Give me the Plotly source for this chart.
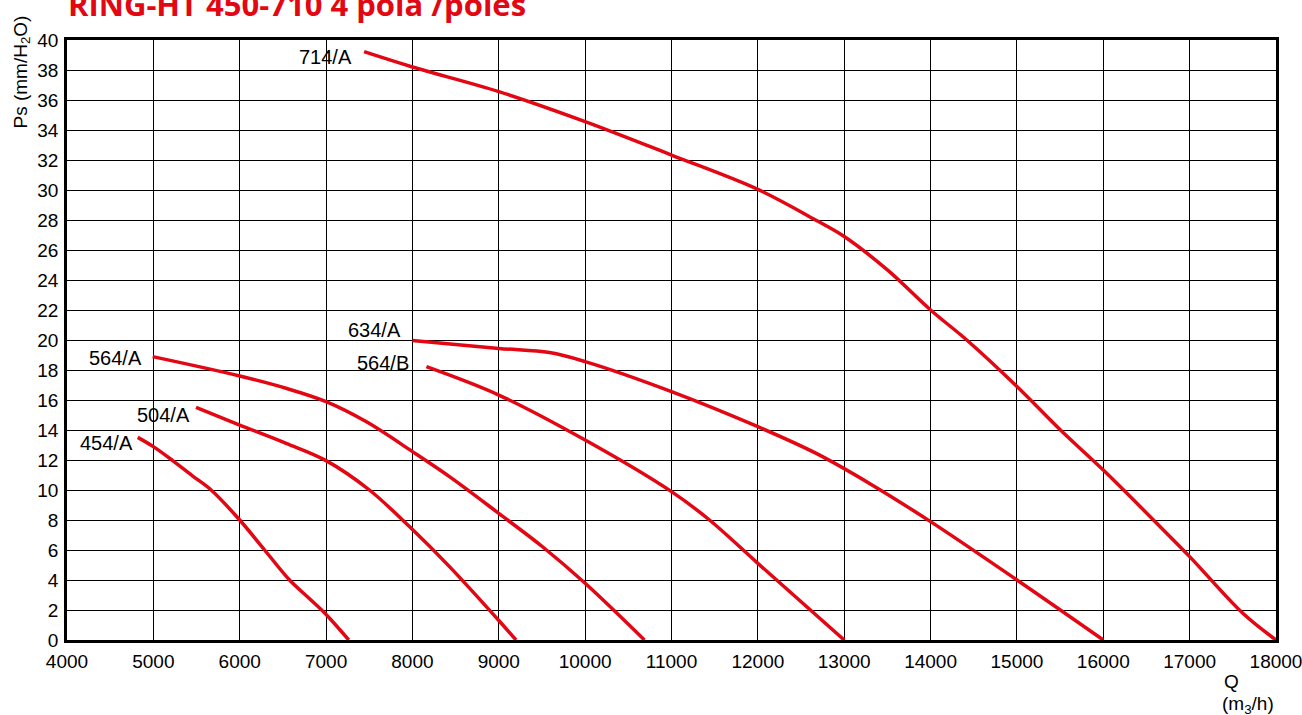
import plotly.graph_objects as go

# Data (Q in m3/h, Ps in mm H2O)
q_454a = [4819, 5000, 5224, 5456, 5669, 6000, 6288, 6577, 6790, 7000, 7263]
p_454a = [13.51, 12.89, 11.96, 10.93, 10.0, 8.0, 6.0, 4.0, 2.85, 1.7, 0.0]

q_504a = [5494, 6000, 6537, 7000, 7502, 7965, 8429, 9000, 9200]
p_504a = [15.51, 14.33, 13.11, 11.96, 10.0, 7.56, 4.89, 1.3, 0.0]

q_564a = [4992, 6000, 6537, 7000, 7463, 8000, 8429, 9000, 9510, 10000, 10687]
p_564a = [18.89, 17.6, 16.78, 15.89, 14.56, 12.56, 10.89, 8.44, 6.2, 3.78, 0.0]

q_564b = [8162, 9000, 10000, 11000, 11440, 12000, 13000]
p_564b = [18.22, 16.33, 13.33, 9.89, 8.0, 5.11, 0.0]

q_634a = [8000, 9000, 9587, 10000, 11000, 12000, 12676, 13293, 14000, 15000, 16000]
p_634a = [19.96, 19.44, 19.16, 18.56, 16.56, 14.22, 12.44, 10.44, 7.89, 4.0, 0.0]

q_714a = [7440, 8000, 9000, 10000, 11000, 12000, 12668, 13000, 13500, 14000, 14419, 15000, 15504, 16000, 16581, 17000, 17616, 18000]
p_714a = [39.22, 38.2, 36.56, 34.56, 32.33, 30.04, 28.0, 26.9, 24.67, 22.0, 20.0, 16.9, 14.0, 11.33, 8.0, 5.56, 1.78, 0.0]

series = [
    ("454/A", q_454a, p_454a),
    ("504/A", q_504a, p_504a),
    ("564/A", q_564a, p_564a),
    ("564/B", q_564b, p_564b),
    ("634/A", q_634a, p_634a),
    ("714/A", q_714a, p_714a),
]

label_names = ["714/A", "634/A", "564/B", "564/A", "504/A", "454/A"]
label_x = [7329, 7896, 7989, 4886, 5442, 4782]
label_y = [38.87, 20.67, 18.5, 18.8, 15.0, 13.13]

x_ticks = list(range(4000, 18001, 1000))
y_ticks = list(range(0, 41, 2))

RED = "#e30613"
FONT = "Liberation Sans, Arial, sans-serif"

fig = go.Figure()
for name, q, p in series:
    fig.add_trace(go.Scatter(x=q, y=p, mode="lines", name=name,
                             line=dict(color=RED, width=3.5, shape="spline", smoothing=1.0),
                             showlegend=False, hoverinfo="x+y+name"))

for n, lx, ly in zip(label_names, label_x, label_y):
    fig.add_annotation(x=lx, y=ly, xref="x", yref="y", text=n, showarrow=False,
                       xanchor="right", yanchor="middle",
                       font=dict(family=FONT, size=20, color="black"))

fig.add_annotation(x=0.0, y=1.0, xref="paper", yref="paper", xshift=-1, yshift=13,
                   text="<b>RING-HT 450-710 4 pola /poles</b>", showarrow=False,
                   xanchor="left", yanchor="bottom",
                   font=dict(family="Open Sans, sans-serif", size=31, color=RED))

fig.add_annotation(x=0, y=1, xref="paper", yref="paper", xshift=-46, yshift=26,
                   text="Ps (mm/H<sub>2</sub>O)", textangle=-90, showarrow=False,
                   xanchor="center", yanchor="top",
                   font=dict(family=FONT, size=19, color="black"))

fig.add_annotation(x=1, y=0, xref="paper", yref="paper", xshift=-45, yshift=-29,
                   text="Q", showarrow=False, xanchor="center", yanchor="top",
                   font=dict(family=FONT, size=19, color="black"))
fig.add_annotation(x=1, y=0, xref="paper", yref="paper", xshift=-28, yshift=-51,
                   text="(m<sub>3</sub>/h)", showarrow=False, xanchor="center", yanchor="top",
                   font=dict(family=FONT, size=19, color="black"))

fig.update_layout(
    width=1302, height=715,
    margin=dict(l=67, r=26, t=40, b=75, autoexpand=False),
    paper_bgcolor="white", plot_bgcolor="white",
    font=dict(family=FONT, size=19, color="black"),
)
fig.update_xaxes(range=[4000, 18000], tickvals=x_ticks, ticktext=[str(v) for v in x_ticks],
                 showgrid=True, gridcolor="black", gridwidth=1.4,
                 showline=True, linecolor="black", linewidth=2.5, mirror=True,
                 zeroline=False, ticks="outside", ticklen=2, tickcolor="white",
                 ticklabeloverflow="allow", automargin=False,
                 tickfont=dict(family=FONT, size=19, color="black"))
fig.update_yaxes(range=[0, 40], tickvals=y_ticks, ticktext=[str(v) for v in y_ticks],
                 showgrid=True, gridcolor="black", gridwidth=1.4,
                 showline=True, linecolor="black", linewidth=2.5, mirror=True,
                 zeroline=False, ticks="outside", ticklen=2, tickcolor="white",
                 ticklabeloverflow="allow", automargin=False,
                 tickfont=dict(family=FONT, size=19, color="black"))

fig.write_html("out.html", config={"displayModeBar": False},
               post_script="document.body.style.margin='0';")
